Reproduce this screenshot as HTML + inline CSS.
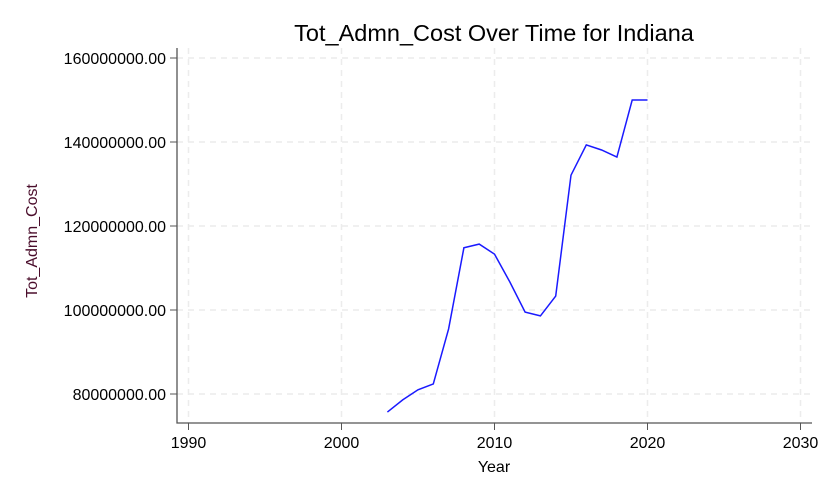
<!DOCTYPE html>
<html><head><meta charset="utf-8"><style>
html,body{margin:0;padding:0;background:#fff;}
svg{display:block;font-family:"Liberation Sans",Arial,sans-serif;}
</style></head><body>
<svg id="chart" width="831" height="498" viewBox="0 0 831 498">
<text x="494" y="41" font-size="23.5" text-anchor="middle" fill="#000">Tot_Admn_Cost Over Time for Indiana</text>
<g id="grid"></g>
<g id="axes"></g>
<text x="494" y="472" font-size="16" text-anchor="middle" fill="#000">Year</text>
<text transform="translate(37,241) rotate(-90)" font-size="16" text-anchor="middle" fill="#4a0d2b">Tot_Admn_Cost</text>
<g id="series"></g>
</svg>
<script>
const years = [2003,2004,2005,2006,2007,2008,2009,2010,2011,2012,2013,2014,2015,2016,2017,2018,2019,2020];
const costs = [75.7,78.6,81.0,82.4,95.5,114.8,115.7,113.3,106.7,99.5,98.6,103.3,132.1,139.3,138.1,136.4,150.0,150.0];
const xTicks = [1990,2000,2010,2020,2030];
const yTicks = [80,100,120,140,160];
const yTickLabels = ["80000000.00","100000000.00","120000000.00","140000000.00","160000000.00"];

const NS="http://www.w3.org/2000/svg";
function xs(v){return 188.5+(v-1990)*15.3;}
function ys(v){return 394-(v-80)*4.2;}
function mk(tag,attrs,parent){const e=document.createElementNS(NS,tag);for(const k in attrs)e.setAttribute(k,attrs[k]);parent.appendChild(e);return e;}
const grid=document.getElementById('grid'),axes=document.getElementById('axes'),series=document.getElementById('series');
const L=177,B=423,R=812,T=48;
xTicks.forEach(t=>{
  const g=mk('line',{x1:xs(t),x2:xs(t),y1:T,y2:B,stroke:'#ececec','stroke-width':1.5,'stroke-dasharray':'6,5'},grid);
  
  
  const tk=mk('line',{x1:xs(t),x2:xs(t),y1:B,y2:B+7,stroke:'#555','stroke-width':1},axes);
  
  
  const lb=mk('text',{x:xs(t),y:B+25,'font-size':16,'text-anchor':'middle',fill:'#000'},axes);
  lb.textContent=t;
  
  
});
yTicks.forEach((t,i)=>{
  const g=mk('line',{x1:L,x2:R,y1:ys(t),y2:ys(t),stroke:'#ececec','stroke-width':1.5,'stroke-dasharray':'6,5'},grid);
  
  
  const tk=mk('line',{x1:L-7,x2:L,y1:ys(t),y2:ys(t),stroke:'#555','stroke-width':1},axes);
  
  
  const lb=mk('text',{x:L-11,y:ys(t)+6,'font-size':16,'text-anchor':'end',fill:'#000'},axes);
  lb.textContent=yTickLabels[i];
  
  
});
const ax=mk('path',{d:`M${L},${T} L${L},${B} L${R},${B}`,fill:'none',stroke:'#555','stroke-width':1.3},axes);


const d=years.map((y,i)=>(i?'L':'M')+xs(y).toFixed(1)+','+ys(costs[i]).toFixed(1)).join(' ');
const line=mk('path',{d:d,fill:'none',stroke:'#1a1aff','stroke-width':1.5},series);


</script>
</body></html>
